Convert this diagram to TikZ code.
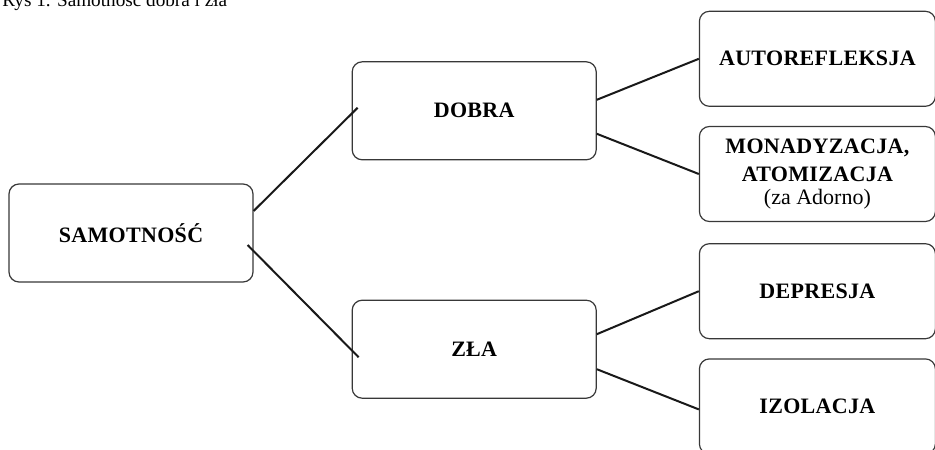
\documentclass[tikz,border=0pt]{standalone}
\usepackage{fontspec}
\setmainfont{Liberation Serif}
\newfontfamily\capsfont{Liberation Serif}[LetterSpace=1.5]
\usepackage{tikz}
\usetikzlibrary{positioning}

\begin{document}
\begin{tikzpicture}[
  x=0.5pt, y=-0.5pt,
  node distance=49pt and 51pt,
  mybox/.style={draw=black!78,line width=0.6pt,rounded corners=5pt,minimum width=122pt,minimum height=49pt,align=center,font=\capsfont\bfseries\fontsize{11}{14}\selectfont},
  myleaf/.style={mybox,minimum width=118pt,minimum height=47.5pt},
  myline/.style={line width=1pt,black!90},
]
\useasboundingbox (0,0) rectangle (935,449);

\node[anchor=base west,inner sep=0pt,font=\fontsize{9.6}{12}\selectfont] (caption) at (2,7) {Rys 1. Samotność dobra i zła};

\node[mybox] (samotnosc) at (131,233) {SAMOTNOŚĆ};
\node[mybox,above right=11.5pt and 49pt of samotnosc] (dobra) {DOBRA};
\node[mybox,below right=8.5pt and 49pt of samotnosc] (zla) {ZŁA};

\node[myleaf,right=51pt of dobra,yshift=26pt] (autorefleksja) {AUTOREFLEKSJA};
\node[myleaf,below=9.5pt of autorefleksja] (monadyzacja) {MONADYZACJA,\\ATOMIZACJA\\[-2.5pt]{\normalfont (za Adorno)}};
\node[myleaf,right=51pt of zla,yshift=29pt] (depresja) {DEPRESJA};
\node[myleaf,below=9.5pt of depresja] (izolacja) {IZOLACJA};

\path ([yshift=11pt]samotnosc.east) edge[myline] ([xshift=3pt,yshift=1.5pt]dobra.west)
([xshift=-3pt,yshift=-6pt]samotnosc.east) edge[myline] ([xshift=3.5pt,yshift=-4pt]zla.west)
([yshift=5.5pt]dobra.east) edge[myline] (autorefleksja.west)
([yshift=-11.5pt]dobra.east) edge[myline] (monadyzacja.west)
([yshift=7.5pt]zla.east) edge[myline] (depresja.west)
([yshift=-10pt]zla.east) edge[myline] ([yshift=-1.5pt]izolacja.west);
\end{tikzpicture}
\end{document}
